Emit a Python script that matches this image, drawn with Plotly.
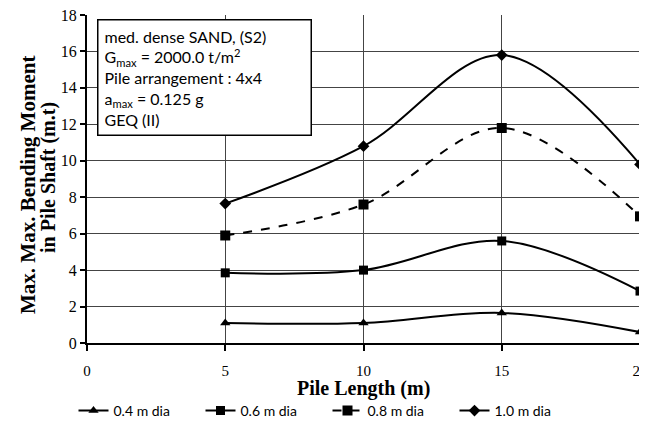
import plotly.graph_objects as go

pile_length = [5, 10, 15, 20]
d04 = [1.1, 1.1, 1.65, 0.6]
d06 = [3.85, 4.0, 5.6, 2.85]
d08 = [5.9, 7.6, 11.8, 6.95]
d10 = [7.65, 10.8, 15.8, 9.8]
names = ["0.4 m dia", "0.6 m dia", "0.8 m dia", "1.0 m dia"]
symbols = ["triangle-up", "square", "square", "diamond"]
dashes = ["solid", "solid", "dash", "solid"]
sizes = [9, 9, 10, 9]

fig = go.Figure()
for name, ys, sym, dash, sz in zip(names, [d04, d06, d08, d10], symbols, dashes, sizes):
    fig.add_trace(go.Scatter(
        x=pile_length, y=ys, name=name, mode="lines+markers",
        line=dict(color="black", width=2, dash=dash, shape="spline", smoothing=1.0),
        marker=dict(symbol=sym, size=sz, color="black"),
        cliponaxis=False,
    ))

serif = "Liberation Serif"
W, H = 639, 425
fig.update_layout(
    width=W, height=H,
    margin=dict(l=79, r=7, t=7, b=90, autoexpand=False),
    paper_bgcolor="white", plot_bgcolor="white",
    showlegend=True,
    legend=dict(orientation="h", x=0.5, xanchor="center", xref="container",
                y=1 - 403 / H, yanchor="middle", yref="container",
                font=dict(family="Lato", size=14, color="black"),
                entrywidth=82, tracegroupgap=0),
    xaxis=dict(range=[0, 20], tickvals=[0, 5, 10, 15, 20], showgrid=True,
               gridcolor="#444", gridwidth=1.2, zeroline=False,
               showline=True, linecolor="black", linewidth=2, automargin=False,
               ticks="outside", ticklen=6, tickcolor="black", tickwidth=1.5,
               ticklabelstandoff=7, ticklabeloverflow="allow",
               tickfont=dict(family=serif, size=15, color="black")),
    xaxis2=dict(range=[0, 20], tickvals=[0, 5, 10, 15, 20], overlaying="x", side="bottom",
                showgrid=False, zeroline=False, showline=False, showticklabels=False,
                ticks="inside", ticklen=5, tickcolor="black", tickwidth=1.5, automargin=False),
    yaxis=dict(range=[0, 18], dtick=2, showgrid=True,
               gridcolor="#444", gridwidth=1.2, zeroline=False,
               showline=True, linecolor="black", linewidth=2, automargin=False,
               ticks="outside", ticklen=5, tickcolor="black", tickwidth=1.5,
               ticklabeloverflow="allow",
               tickfont=dict(family=serif, size=16, color="black")),
)

pw, ph = W - 79 - 7, H - 7 - 90
def px(xf):
    return (xf - 79) / pw
def py(yf):
    return 1 - (yf - 7) / ph

title_font = dict(family=serif, size=20, color="black")
fig.add_annotation(xref="paper", yref="paper", x=0.5, y=py(381), xanchor="center", yanchor="middle",
                   text="<b>Pile Length (m)</b>", showarrow=False, font=title_font)
fig.add_annotation(xref="paper", yref="paper", x=px(20), y=py(177), xanchor="center", yanchor="middle",
                   textangle=-90, text="<b>Max. Max. Bending Moment</b>", showarrow=False,
                   font=dict(family=serif, size=21, color="black"))
fig.add_annotation(xref="paper", yref="paper", x=px(40), y=py(170), xanchor="center", yanchor="middle",
                   textangle=-90, text="<b>in Pile Shaft (m.t)</b>", showarrow=False, font=title_font)

fig.add_annotation(
    xref="paper", yref="paper", x=px(89), y=py(11), xanchor="left", yanchor="top",
    align="left", showarrow=False, width=200,
    text=("med. dense SAND, (S2)<br>G<sub>max</sub> = 2000.0 t/m<sup>2</sup><br>"
          "Pile arrangement : 4x4<br>a<sub>max</sub> = 0.125 g<br>GEQ (II)"),
    font=dict(family="Lato", size=16, color="black"),
    bordercolor="black", borderwidth=1.5, borderpad=6, bgcolor="white",
)

fig.write_html("out.html")
